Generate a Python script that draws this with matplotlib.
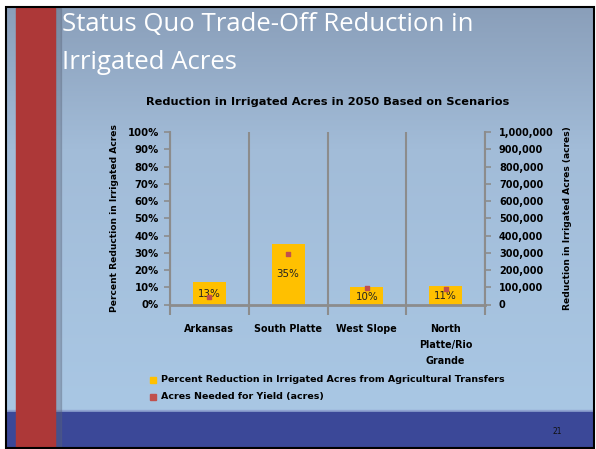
import numpy as np
import matplotlib
matplotlib.use("Agg")
import matplotlib.pyplot as plt
from matplotlib.patches import Rectangle
from matplotlib.ticker import FuncFormatter, MultipleLocator
from matplotlib.colors import to_rgb

# data
categories = ["Arkansas", "South Platte", "West Slope", "North\nPlatte/Rio\nGrande"]
pct_reduction = [13, 35, 10, 11]          # % reduction in irrigated acres
acres_needed = [45000, 290000, 95000, 90000]  # acres needed for yield

chart_title = "Reduction in Irrigated Acres in 2050 Based on Scenarios"
left_label = "Percent Reduction in Irrigated Acres"
right_label = "Reduction in Irrigated Acres (acres)"
legend_labels = ["Percent Reduction in Irrigated Acres from Agricultural Transfers",
                 "Acres Needed for Yield (acres)"]

W, H = 596, 449
fig = plt.figure(figsize=(W / 100, H / 100), dpi=100)
fig.patch.set_facecolor("white")

# slide background
bg = fig.add_axes([0, 0, 1, 1], zorder=-5)
bg.set_xlim(0, W)
bg.set_ylim(H, 0)
bg.axis("off")
c_top = np.array(to_rgb("#8a9fba"))
c_mid = np.array(to_rgb("#a2bcd8"))
c_low = np.array(to_rgb("#a9c7e4"))
rows = np.linspace(0, 1, 200)[:, None]
grad = np.where(rows < 0.35, c_top + (c_mid - c_top) * (rows / 0.35),
                c_mid + (c_low - c_mid) * ((rows - 0.35) / 0.65))
grad = np.repeat(grad[:, None, :], 2, axis=1).reshape(200, 2, 3)
bg.imshow(grad, extent=[7, 593, 410, 8], aspect="auto", zorder=0)
bg.add_patch(Rectangle((7, 410), 586, 2, color="#8fa3d0", zorder=1))
bg.add_patch(Rectangle((7, 412), 586, 35, color="#3b4898", zorder=1))
bg.add_patch(Rectangle((55, 8), 6, 439, color="#5a6478", alpha=0.35, zorder=2))
bg.add_patch(Rectangle((16, 8), 39, 439, color="#ad3838", zorder=3))
bg.add_patch(Rectangle((6, 7), 588, 441, fill=False, ec="black", lw=1.5, zorder=4))

bg.text(62, 31, "Status Quo Trade-Off Reduction in", fontsize=18.5, family="Open Sans",
        color="white", va="baseline", ha="left", zorder=5)
bg.text(62, 69, "Irrigated Acres", fontsize=18.5, family="Open Sans",
        color="white", va="baseline", ha="left", zorder=5)
bg.text(328, 102, chart_title, fontsize=8.2, fontweight="bold", color="black",
        ha="center", va="center", zorder=5)
bg.text(557, 432, "21", fontsize=5.5, color="#111111", ha="center", va="center", zorder=5)

# legend
bg.add_patch(Rectangle((150, 377), 6, 6, color="#ffc000", zorder=5))
bg.add_patch(Rectangle((150, 394), 6, 6, color="#c0504d", zorder=5))
bg.text(161, 380, legend_labels[0], fontsize=6.8, fontweight="bold", ha="left",
        va="center", zorder=5)
bg.text(161, 397, legend_labels[1], fontsize=6.8, fontweight="bold", ha="left",
        va="center", zorder=5)

# chart
ax = fig.add_axes([170 / W, 1 - 304.5 / H, 315 / W, 172.5 / H])
ax.patch.set_alpha(0)
x = np.arange(len(categories))
ax.bar(x, pct_reduction, width=0.42, color="#ffc000", zorder=2)
for xi, v in zip(x, pct_reduction):
    ax.text(xi, v / 2 if v > 20 else v / 2 - 0.5, f"{v}%", ha="center", va="center",
            fontsize=7.4, color="#222222", zorder=4)
ax.set_xlim(-0.5, len(categories) - 0.5)
ax.set_ylim(0, 100)
ax.yaxis.set_major_locator(MultipleLocator(10))
ax.yaxis.set_major_formatter(FuncFormatter(lambda v, p: f"{v:.0f}%"))
ax.set_xticks(x)
ax.set_xticklabels(categories, fontsize=6.9, fontweight="bold", linespacing=1.75,
                   va="top")
ax.set_xticks(np.arange(-0.5, len(categories)), minor=True)
ax.tick_params(axis="x", which="major", length=0, pad=14)
ax.tick_params(axis="x", which="minor", length=7, width=1.5, color="#8c8c8c")
ax.grid(axis="x", which="minor", color="#8c8c8c", lw=1.5, zorder=1)
ax.tick_params(axis="y", length=4, width=1.2, color="#8c8c8c", labelsize=7.3, pad=4)
for lbl in ax.get_yticklabels():
    lbl.set_fontweight("bold")
for s in ["top", "right"]:
    ax.spines[s].set_visible(False)
ax.spines["left"].set_color("#8c8c8c")
ax.spines["left"].set_linewidth(1.5)
ax.spines["bottom"].set_color("#8c8c8c")
ax.spines["bottom"].set_linewidth(2)
ax.set_ylabel(left_label, fontsize=6.6, fontweight="bold", labelpad=6)

ax2 = ax.twinx()
ax2.scatter(x, acres_needed, marker="s", s=12, color="#c0504d", zorder=3)
ax2.set_ylim(0, 1000000)
ax2.yaxis.set_major_locator(MultipleLocator(100000))
ax2.yaxis.set_major_formatter(FuncFormatter(lambda v, p: f"{v:,.0f}"))
ax2.tick_params(axis="y", length=4, width=1.2, color="#8c8c8c", labelsize=7.0, pad=6)
for lbl in ax2.get_yticklabels():
    lbl.set_fontweight("bold")
for s in ["top", "left", "bottom"]:
    ax2.spines[s].set_visible(False)
ax2.spines["right"].set_color("#8c8c8c")
ax2.spines["right"].set_linewidth(1.5)
ax2.set_ylabel(right_label, fontsize=6.6, fontweight="bold", labelpad=7)

fig.savefig("out.png", dpi=100)
